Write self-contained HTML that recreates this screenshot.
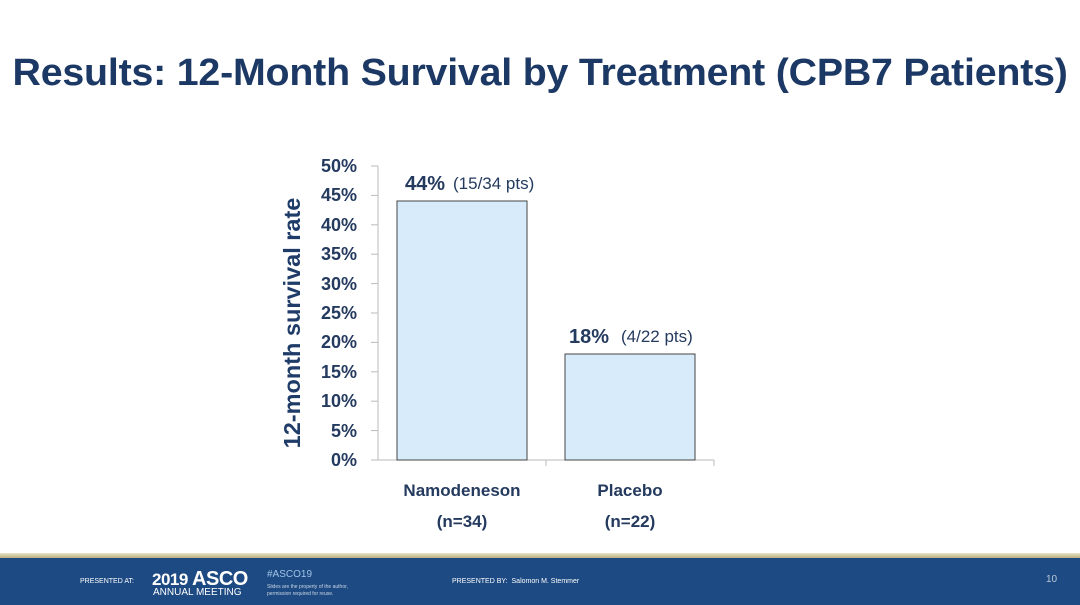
<!DOCTYPE html>
<html><head><style>
body{margin:0;width:1080px;height:605px;background:#fff;position:relative;overflow:hidden;font-family:"Liberation Sans",sans-serif}
.t{position:absolute;left:0;width:1080px;top:52px;text-align:center;font-weight:bold;font-size:38px;color:#1c3864;letter-spacing:-0.2px;transform:scaleX(1.035);transform-origin:537px 0}
.foot{position:absolute;left:0;top:558px;width:1080px;height:47px;background:#1d4a82}
.gold{position:absolute;left:0;top:553px;width:1080px;height:5px;background:linear-gradient(#e9e4cc,#b9ad7c)}
.f{position:absolute;color:#fff;white-space:nowrap}
</style></head><body>
<div class="t">Results: 12-Month Survival by Treatment (CPB7 Patients)</div>
<svg width="1080" height="550" style="position:absolute;left:0;top:0" font-family="Liberation Sans, sans-serif">
<g stroke="#bbb" stroke-width="1">
<line x1="378" y1="166" x2="378" y2="460"/>
<line x1="378" y1="460" x2="714" y2="460"/>
<line x1="546" y1="460" x2="546" y2="466"/>
<line x1="714" y1="460" x2="714" y2="466"/>
<line x1="371" y1="166" x2="378" y2="166"/><line x1="371" y1="195.4" x2="378" y2="195.4"/>
<line x1="371" y1="224.8" x2="378" y2="224.8"/><line x1="371" y1="254.2" x2="378" y2="254.2"/>
<line x1="371" y1="283.6" x2="378" y2="283.6"/><line x1="371" y1="313" x2="378" y2="313"/>
<line x1="371" y1="342.4" x2="378" y2="342.4"/><line x1="371" y1="371.8" x2="378" y2="371.8"/>
<line x1="371" y1="401.2" x2="378" y2="401.2"/><line x1="371" y1="430.6" x2="378" y2="430.6"/>
<line x1="371" y1="460" x2="378" y2="460"/>
</g>
<g font-size="18" font-weight="bold" fill="#243a5e" text-anchor="end">
<text x="357" y="172">50%</text><text x="357" y="201">45%</text><text x="357" y="231">40%</text>
<text x="357" y="260">35%</text><text x="357" y="290">30%</text><text x="357" y="319">25%</text>
<text x="357" y="348">20%</text><text x="357" y="378">15%</text><text x="357" y="407">10%</text>
<text x="357" y="437">5%</text><text x="357" y="466">0%</text>
</g>
<text transform="translate(300,323) rotate(-90)" text-anchor="middle" font-size="23.5" font-weight="bold" fill="#1f3b68">12-month survival rate</text>
<rect x="397" y="201" width="130" height="259" fill="#d7ebfa" stroke="#444" stroke-width="1"/>
<rect x="565" y="354" width="130" height="106" fill="#d7ebfa" stroke="#444" stroke-width="1"/>
<text x="405" y="190" font-size="20" font-weight="bold" fill="#243a5e">44%</text>
<text x="453" y="189" font-size="17" fill="#243a5e">(15/34 pts)</text>
<text x="569" y="343" font-size="20" font-weight="bold" fill="#243a5e">18%</text>
<text x="621" y="342" font-size="17" fill="#243a5e">(4/22 pts)</text>
<g font-size="17" font-weight="bold" fill="#243a5e" text-anchor="middle">
<text x="462" y="496">Namodeneson</text><text x="462" y="527">(n=34)</text>
<text x="630" y="496">Placebo</text><text x="630" y="527">(n=22)</text>
</g>
</svg>
<div class="gold"></div>
<div class="foot"></div>
<div class="f" style="left:80px;top:578px;font-size:7px">PRESENTED AT:</div>
<div class="f" style="left:152px;top:568px;font-size:17px;font-weight:bold;letter-spacing:-0.5px">2019 <span style="font-size:20px">ASCO</span></div>
<div class="f" style="left:153px;top:587px;font-size:10px">ANNUAL MEETING</div>
<div class="f" style="left:267px;top:569px;font-size:10px;color:#9fc3e8">#ASCO19</div>
<div class="f" style="left:267px;top:584px;font-size:5px;color:#c9d6e6;line-height:7px">Slides are the property of the author,<br>permission required for reuse.</div>
<div class="f" style="left:452px;top:578px;font-size:7px">PRESENTED BY: &nbsp;Salomon M. Stemmer</div>
<div class="f" style="left:1046px;top:574px;font-size:10px;color:#bcc8d8">10</div>
</body></html>
